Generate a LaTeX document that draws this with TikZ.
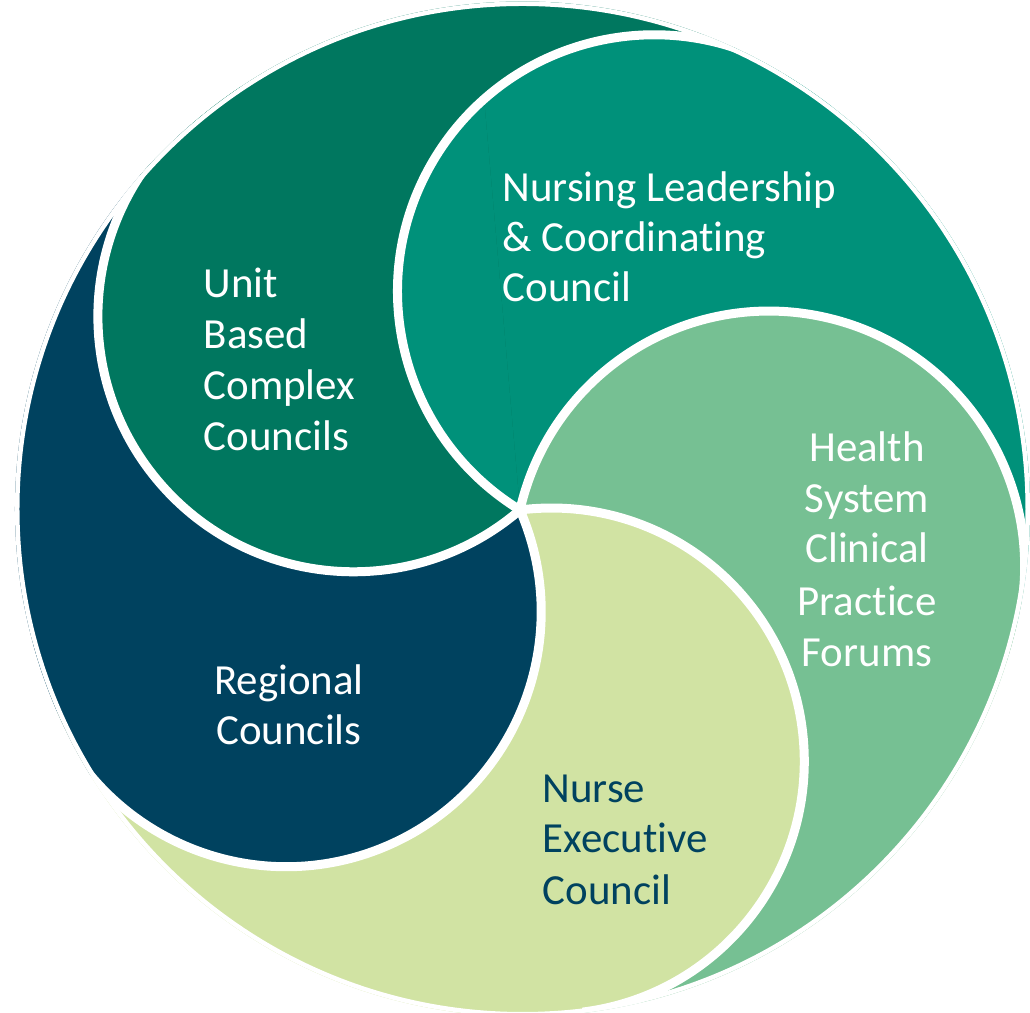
\documentclass[tikz,border=0pt]{standalone}
\usepackage{fontspec}
\setmainfont{Carlito}[Ligatures=NoCommon]
\definecolor{cUB}{HTML}{00775F}
\definecolor{cNL}{HTML}{00917A}
\definecolor{cHS}{HTML}{76C093}
\definecolor{cNE}{HTML}{D1E3A3}
\definecolor{cRC}{HTML}{00425F}
\begin{document}
\begin{tikzpicture}[x=0.01cm,y=0.01cm,
  lbl/.style={text=white, inner sep=0pt, font=\fontsize{12.2}{14}\selectfont},
  lbldark/.style={lbl, text=cRC},
  border/.style={draw=white, line width=0.9mm}]
\useasboundingbox (-520,-503) rectangle (510,510);
\coordinate (O) at (0,0);
\coordinate (rim) at (2.5,1);
\coordinate (cub) at (130.7:255.5);
\coordinate (cnl) at (58.5:256.5);
\coordinate (chs) at (-12.8:255.5);
\coordinate (cne) at (-82.9:253);
\coordinate (crc) at (203.5:255);
\begin{scope}
  \clip (rim) circle[radius=507.5];
  % Unit Based
  \fill[cUB] (cub) circle[radius=255.5];
  \fill[cUB] (O) -- (58.5:800) -- (94.6:800) -- (130.7:800) -- cycle;
  % Nursing Leadership
  \fill[cNL] (cnl) circle[radius=256.5];
  \fill[cNL] (O) -- (-12.8:800) -- (22.85:800) -- (58.5:800) -- cycle;
  % Health System
  \fill[cHS] (chs) circle[radius=255.5];
  \fill[cHS] (O) -- (-82.9:800) -- (-47.85:800) -- (-12.8:800) -- cycle;
  % Nurse Executive
  \fill[cNE] (cne) circle[radius=253];
  \fill[cNE] (O) -- (-156.5:800) -- (-119.7:800) -- (-82.9:800) -- cycle;
  % Regional
  \fill[cRC] (crc) circle[radius=255];
  \fill[cRC] (O) -- (130.7:800) -- (167.1:800) -- (203.5:800) -- cycle;
  % close the cycle: Unit Based over Regional, Nursing Leadership over both
  \begin{scope}
    \clip (O) -- (95:800) -- (180:800) -- (265:800) -- cycle;
    \fill[cUB] (cub) circle[radius=255.5];
    \fill[cNL] (cnl) circle[radius=256.5];
  \end{scope}
  % white borders
  \draw[border] (O) arc[start angle=310.7, end angle=130.7, radius=255.5];
  \draw[border] (O) arc[start angle=238.5, end angle=58.5, radius=256.5];
  \draw[border] (O) arc[start angle=167.2, end angle=-12.8, radius=255.5];
  \draw[border] (O) arc[start angle=97.1, end angle=-82.9, radius=253];
  \draw[border] (O) arc[start angle=23.5, end angle=-156.5, radius=255];
  \draw[border] (rim) circle[radius=507.5];
\end{scope}
% labels
\node[lbl, anchor=base west] (ub1) at (-317,212) {Unit};
\node[lbl, anchor=base west] (ub2) at (-317,161) {Based};
\node[lbl, anchor=base west] (ub3) at (-317,110) {Complex};
\node[lbl, anchor=base west] (ub4) at (-317,59) {Councils};
\node[lbl, anchor=base west] (nl1) at (-18,308) {Nursing Leadership};
\node[lbl, anchor=base west] (nl2) at (-18,258) {\& Coordinating};
\node[lbl, anchor=base west] (nl3) at (-18,208) {Council};
\node[lbl, anchor=base] (hs1) at (347,48) {Health};
\node[lbl, anchor=base] (hs2) at (347,-3) {System};
\node[lbl, anchor=base] (hs3) at (347,-53) {Clinical};
\node[lbl, anchor=base] (hs4) at (347,-106) {Practice};
\node[lbl, anchor=base] (hs5) at (347,-157) {Forums};
\node[lbldark, anchor=base west] (ne1) at (22,-293) {Nurse};
\node[lbldark, anchor=base west] (ne2) at (22,-343) {Executive};
\node[lbldark, anchor=base west] (ne3) at (22,-395) {Council};
\node[lbl, anchor=base] (rc1) at (-231,-185) {Regional};
\node[lbl, anchor=base] (rc2) at (-231,-235) {Councils};
\end{tikzpicture}
\end{document}
